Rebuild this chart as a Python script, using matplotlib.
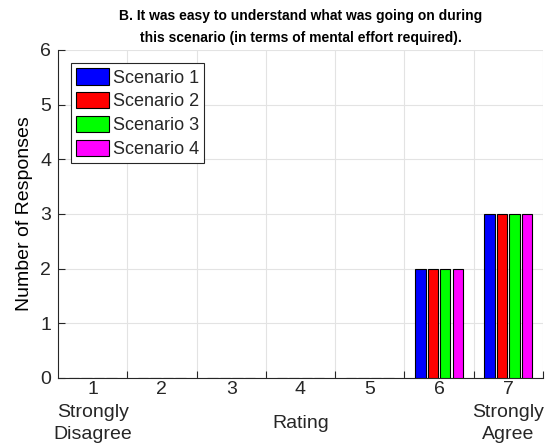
import matplotlib.pyplot as plt
import numpy as np

plt.rcParams['font.family'] = ['Liberation Sans', 'DejaVu Sans']
plt.rcParams['text.color'] = '#262626'
plt.rcParams['xtick.color'] = '#262626'
plt.rcParams['ytick.color'] = '#262626'

ratings = [1, 2, 3, 4, 5, 6, 7]
tick_labels = ['1\nStrongly\nDisagree', '2', '3', '4', '5', '6', '7\nStrongly\nAgree']
scenario1 = [0, 0, 0, 0, 0, 2, 3]
scenario2 = [0, 0, 0, 0, 0, 2, 3]
scenario3 = [0, 0, 0, 0, 0, 2, 3]
scenario4 = [0, 0, 0, 0, 0, 2, 3]
names = ['Scenario 1', 'Scenario 2', 'Scenario 3', 'Scenario 4']
colors = ['#0000ff', '#ff0000', '#00ff00', '#ff00ff']

fig = plt.figure(figsize=(5.49, 4.46), dpi=100)
ax = fig.add_axes([0.1056, 0.1525, 0.8834, 0.7355])

x = np.array(ratings)
offsets = [-0.27, -0.09, 0.09, 0.27]
for vals, off, c, n in zip([scenario1, scenario2, scenario3, scenario4], offsets, colors, names):
    ax.bar(x + off, vals, width=0.15, color=c, edgecolor='black', linewidth=0.8, label=n, zorder=3)

ax.set_xlim(0.5, 7.5)
ax.set_ylim(0, 6)
ax.set_yticks(range(7))
ax.set_xticks(ratings)
ax.set_xticklabels(tick_labels, fontsize=14)
for t in ax.get_xticklabels():
    t.set_linespacing(1.45)
ax.set_xticks(np.arange(1.5, 8, 1), minor=True)
ax.tick_params(axis='x', which='major', length=0, pad=2)
ax.tick_params(axis='x', which='minor', direction='in', length=5, width=0.8)
ax.tick_params(axis='y', direction='in', length=5, width=0.8, labelsize=14, pad=5)

ax.grid(True, axis='y', color='#e3e3e3', linewidth=0.8, zorder=0)
ax.grid(True, axis='x', which='minor', color='#e3e3e3', linewidth=0.8, zorder=0)
ax.set_axisbelow(True)
ax.spines['top'].set_visible(False)
ax.spines['right'].set_visible(False)
for s in ['left', 'bottom']:
    ax.spines[s].set_linewidth(0.8)
    ax.spines[s].set_color('#262626')

ax.set_ylabel('Number of Responses', fontsize=14)
ax.yaxis.set_label_coords(-0.052, 0.5)
ax.text(0.5, -0.14, 'Rating', transform=ax.transAxes, ha='center', va='center', fontsize=14)
ax.set_title('B. It was easy to understand what was going on during\nthis scenario (in terms of mental effort required).',
             fontsize=10, fontweight='bold', pad=6, linespacing=1.65, color='black')

leg = ax.legend(loc='upper left', bbox_to_anchor=(0.027, 0.96), fontsize=13, fancybox=False,
                edgecolor='#262626', framealpha=1, handlelength=1.8, handleheight=1.0,
                handletextpad=0.22, labelspacing=0.3, borderpad=0.3, borderaxespad=0)
leg.get_frame().set_linewidth(0.8)

fig.savefig('out.png', dpi=100)
